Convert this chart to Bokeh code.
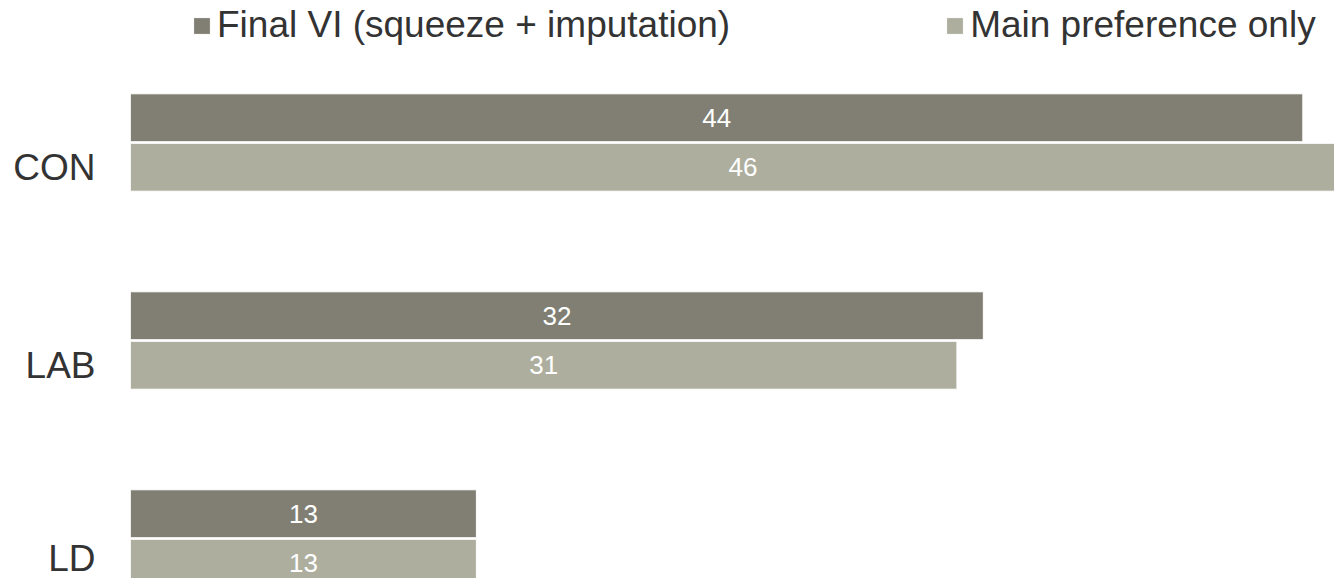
from bokeh.plotting import figure
from bokeh.models import ColumnDataSource, Range1d, FixedTicker, Legend, LegendItem
from bokeh.core.properties import value
from bokeh.embed import file_html
from bokeh.resources import INLINE

categories = ["CON", "LAB", "LD"]
series_names = ["Final VI (squeeze + imputation)", "Main preference only"]
final_vi = [44.4, 32.3, 13.1]
main_pref = [46.4, 31.3, 13.1]
colors = ["#817f73", "#adae9e"]

FONT = "Liberation Sans"
W, H = 1334, 578
LEFT = 130

pos = [-i for i in range(len(categories))]
off = 0.125
bar_h = 0.242

p = figure(width=W, height=H, output_backend="svg", toolbar_location=None,
           x_range=Range1d(0, 45.6), y_range=Range1d(-2.202, 0.7172),
           min_border_left=LEFT, min_border_right=0, min_border_top=0, min_border_bottom=0)
p.outline_line_color = None
p.grid.visible = False
p.xaxis.visible = False
p.background_fill_color = "white"
p.border_fill_color = "white"

src_f = ColumnDataSource(dict(y=[v + off for v in pos], right=final_vi,
                              xm=[v / 2 for v in final_vi], lab=[f"{round(v)}" for v in final_vi]))
src_m = ColumnDataSource(dict(y=[v - off for v in pos], right=main_pref,
                              xm=[v / 2 for v in main_pref], lab=[f"{round(v)}" for v in main_pref]))

r1 = p.hbar(y="y", right="right", left=0, height=bar_h, source=src_f,
            fill_color=colors[0], line_color="white", line_width=1)
r2 = p.hbar(y="y", right="right", left=0, height=bar_h, source=src_m,
            fill_color=colors[1], line_color="white", line_width=1)

for s in (src_f, src_m):
    p.text(x="xm", y="y", text="lab", source=s, text_align="center", text_baseline="middle",
           text_color="white", text_font=value(FONT), text_font_size="26px")

yax = p.yaxis[0]
yax.ticker = FixedTicker(ticks=[v - off for v in pos])
yax.major_label_overrides = {v - off: c for v, c in zip(pos, categories)}
yax.axis_line_color = None
yax.major_tick_line_color = None
yax.minor_tick_line_color = None
yax.major_tick_out = 0
yax.major_tick_in = 0
yax.major_label_text_font = FONT
yax.major_label_text_font_size = "37px"
yax.major_label_text_color = "#333333"
yax.major_label_standoff = 35

legend = Legend(items=[LegendItem(label=series_names[0], renderers=[r1]),
                       LegendItem(label=series_names[1], renderers=[r2])],
                orientation="horizontal", location=(61, 532),
                glyph_width=21, glyph_height=21, label_standoff=5, spacing=214,
                padding=0, margin=0, border_line_color=None, background_fill_alpha=0,
                label_text_font=FONT, label_text_font_size="37px", label_text_color="#333333")
p.add_layout(legend, "center")

open("out.html", "w").write(file_html(p, INLINE))
